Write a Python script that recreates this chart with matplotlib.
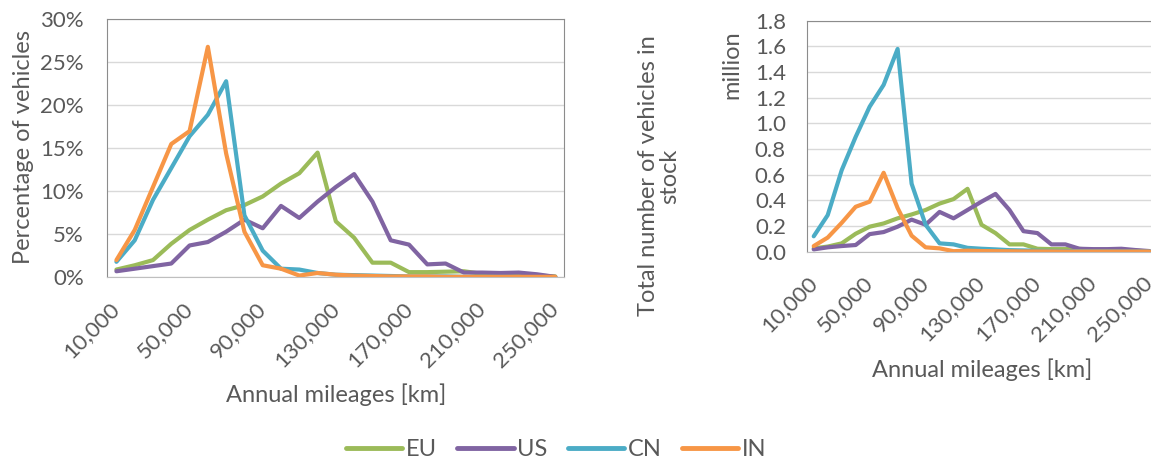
import matplotlib
matplotlib.use("Agg")
import matplotlib.pyplot as plt
from matplotlib.ticker import PercentFormatter, MultipleLocator

plt.rcParams['font.family'] = ['Lato', 'DejaVu Sans']

# annual mileage categories [km]
mileage = [10000, 20000, 30000, 40000, 50000, 60000, 70000, 80000, 90000, 100000,
           110000, 120000, 130000, 140000, 150000, 160000, 170000, 180000, 190000,
           200000, 210000, 220000, 230000, 240000, 250000]

# share of vehicles [%]
eu_pct = [0.9, 1.4, 2.0, 3.9, 5.5, 6.7, 7.8, 8.4, 9.4, 10.9, 12.1, 14.5, 6.5, 4.6, 1.7, 1.7,
          0.6, 0.6, 0.65, 0.7, 0.4, 0.45, 0.3, 0.2, 0.1]
us_pct = [0.7, 1.0, 1.3, 1.6, 3.7, 4.1, 5.3, 6.7, 5.7, 8.3, 6.9, 8.8, 10.5, 12.0, 8.8, 4.3,
          3.8, 1.5, 1.6, 0.55, 0.55, 0.5, 0.55, 0.35, 0.05]
cn_pct = [1.8, 4.3, 9.0, 12.7, 16.4, 18.9, 22.8, 7.2, 3.1, 1.0, 0.9, 0.5, 0.3, 0.25, 0.2, 0.15,
          0.1, 0.1, 0.1, 0.05, 0.05, 0.05, 0.03, 0.02, 0.01]
in_pct = [2.0, 5.5, 10.5, 15.5, 17.0, 26.8, 14.4, 5.3, 1.4, 1.0, 0.2, 0.5, 0.3, 0.2, 0.15, 0.1,
          0.1, 0.1, 0.05, 0.05, 0.05, 0.05, 0.05, 0.05, 0.05]

# vehicles in stock [million]
eu_stock = [0.026, 0.04, 0.065, 0.14, 0.195, 0.22, 0.26, 0.29, 0.325, 0.375, 0.41, 0.49, 0.21,
            0.145, 0.057, 0.057, 0.023, 0.02, 0.02, 0.022, 0.015, 0.015, 0.01, 0.007, 0.003]
us_stock = [0.018, 0.034, 0.044, 0.052, 0.137, 0.153, 0.195, 0.25, 0.21, 0.31, 0.26, 0.325, 0.39,
            0.45, 0.325, 0.16, 0.145, 0.057, 0.057, 0.023, 0.02, 0.02, 0.023, 0.013, 0.005]
cn_stock = [0.12, 0.285, 0.635, 0.895, 1.13, 1.30, 1.58, 0.53, 0.21, 0.065, 0.057, 0.03, 0.023,
            0.018, 0.012, 0.01, 0.007, 0.006, 0.005, 0.004, 0.003, 0.003, 0.002, 0.002, 0.001]
in_stock = [0.044, 0.11, 0.225, 0.35, 0.39, 0.615, 0.34, 0.125, 0.034, 0.026, 0.004, 0.008, 0.005,
            0.004, 0.003, 0.002, 0.002, 0.002, 0.001, 0.001, 0.001, 0.001, 0.001, 0.001, 0.001]

regions = ['EU', 'US', 'CN', 'IN']
colors = ['#9BBB59', '#8064A2', '#4BACC6', '#F79646']
txt = '#595959'
fs = 16   # tick labels
lfs = 17  # axis titles and legend

fig = plt.figure(figsize=(11.51, 4.62), dpi=100)
ax1 = fig.add_axes([0.0932, 0.3998, 0.3972, 0.5584])
ax2 = fig.add_axes([0.7009, 0.4552, 0.3037, 0.5])

pos = list(range(len(mileage)))
labels = [f'{m:,}' for m in mileage]

def style(ax, ylim, ystep, ypad):
    ax.set_xlim(-0.5, len(mileage) - 0.5)
    ax.set_ylim(0, ylim)
    ax.yaxis.set_major_locator(MultipleLocator(ystep))
    ax.grid(axis='y', color='#d9d9d9', lw=1.0)
    ax.set_axisbelow(True)
    for s in ['top', 'right', 'left']:
        ax.spines[s].set_color('#8c8c8c')
    ax.spines['bottom'].set_color('#bfbfbf')
    ax.set_xticks(pos[::4])
    ax.set_xticklabels(labels[::4], rotation=45, ha='right', va='center',
                       rotation_mode='anchor')
    ax.tick_params(axis='x', length=0, pad=20, labelsize=fs, labelcolor=txt)
    ax.tick_params(axis='y', length=0, pad=ypad, labelsize=fs, labelcolor=txt)

lines = []
for vals, c, r in zip([eu_pct, us_pct, cn_pct, in_pct], colors, regions):
    ln, = ax1.plot(pos, vals, color=c, lw=3.0, label=r,
                   solid_joinstyle='round', solid_capstyle='round')
    lines.append(ln)
for vals, c in zip([eu_stock, us_stock, cn_stock, in_stock], colors):
    ax2.plot(pos, vals, color=c, lw=3.0, solid_joinstyle='round', solid_capstyle='round')

style(ax1, 30, 5, 17)
ax1.yaxis.set_major_formatter(PercentFormatter(decimals=0))
style(ax2, 1.8, 0.2, 15)
ax2.yaxis.set_major_formatter(lambda v, p: f'{v:.1f}')

W, H = 1151, 462
fig.text(24 / W, 1 - 147 / H, 'Percentage of vehicles', rotation=90, ha='center',
         va='center', fontsize=lfs, color=txt)
fig.text(336 / W, 1 - 395 / H, 'Annual mileages [km]', ha='center', va='center',
         fontsize=lfs, color=txt)
fig.text(982 / W, 1 - 370 / H, 'Annual mileages [km]', ha='center', va='center',
         fontsize=lfs, color=txt)
fig.text(659 / W, 1 - 176 / H, 'Total number of vehicles in\nstock', rotation=90,
         ha='center', va='center', multialignment='center', fontsize=lfs, color=txt,
         linespacing=1.0)
fig.text(732 / W, 1 - 65 / H, 'million', rotation=90, ha='center', va='center',
         fontsize=lfs, color=txt)

leg = fig.legend(lines, regions, loc='center', bbox_to_anchor=(556 / W, 1 - 450 / H), ncol=4,
                 frameon=False, fontsize=lfs, handlelength=2.4, handletextpad=0.15,
                 columnspacing=0.85, labelcolor=txt)
for h in leg.legend_handles:
    h.set_solid_capstyle('round')
    h.set_linewidth(3.5)

fig.savefig('out.png', dpi=100)
